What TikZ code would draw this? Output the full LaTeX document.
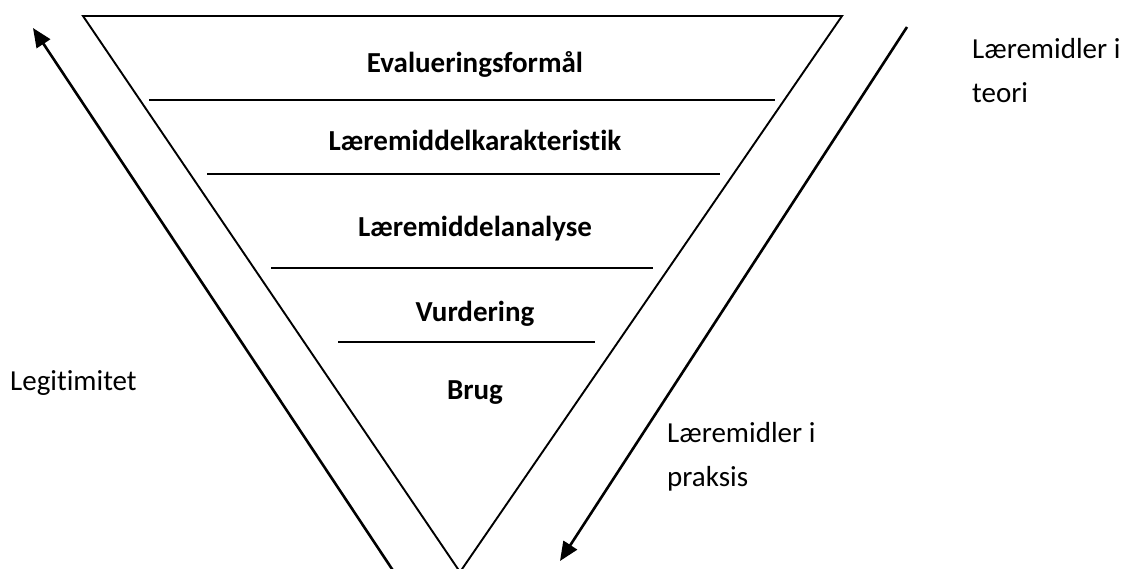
\documentclass[tikz,border=0pt]{standalone}
\usepackage{fontspec}
\setmainfont[Ligatures=NoCommon,RawFeature={-liga;-clig;-dlig}]{Carlito}
\usetikzlibrary{arrows.meta}
\begin{document}
\begin{tikzpicture}[x=1pt,y=-1pt,
  tri/.style={line width=1.9pt},
  level/.style={line width=2pt},
  flow/.style={line width=2.6pt,-{Triangle[length=19pt,width=16pt]}},
  lbl/.style={font=\fontsize{29}{35}\selectfont\bfseries,anchor=base,inner sep=0pt},
  side/.style={font=\fontsize{29}{35}\selectfont,anchor=base west,inner sep=0pt}]
\useasboundingbox (0,0) rectangle (1125,568);
% triangle
\coordinate (tl) at (83,16);
\coordinate (tr) at (842,16);
\coordinate (ap) at (460,572);
\draw[tri] (tl) -- (tr) -- (ap) -- cycle;
% level lines
\draw[level] (149,100) -- (775,100);
\draw[level] (207,174) -- (720,174);
\draw[level] (271,268) -- (653,268);
\draw[level] (338,342) -- (595,342);
% labels
\node[lbl] (l1) at (475,72) {Evalueringsformål};
\node[lbl] (l2) at (475,150) {Læremiddelkarakteristik};
\node[lbl] (l3) at (475,236) {Læremiddelanalyse};
\node[lbl] (l4) at (475,321) {Vurdering};
\node[lbl] (l5) at (475,399) {Brug};
% arrows
\coordinate (la0) at (394,572);
\coordinate (la1) at (33,28);
\draw[flow] (la0) -- (la1);
\coordinate (ra0) at (907,27);
\coordinate (ra1) at (560,561);
\draw[flow] (ra0) -- (ra1);
% side texts
\node[side] (t1) at (972,58) {Læremidler i};
\node[side] (t2) at (972,102) {teori};
\node[side] (t3) at (10,390) {Legitimitet};
\node[side] (t4) at (667,442) {Læremidler i};
\node[side] (t5) at (667,486) {praksis};
\end{tikzpicture}
\end{document}
